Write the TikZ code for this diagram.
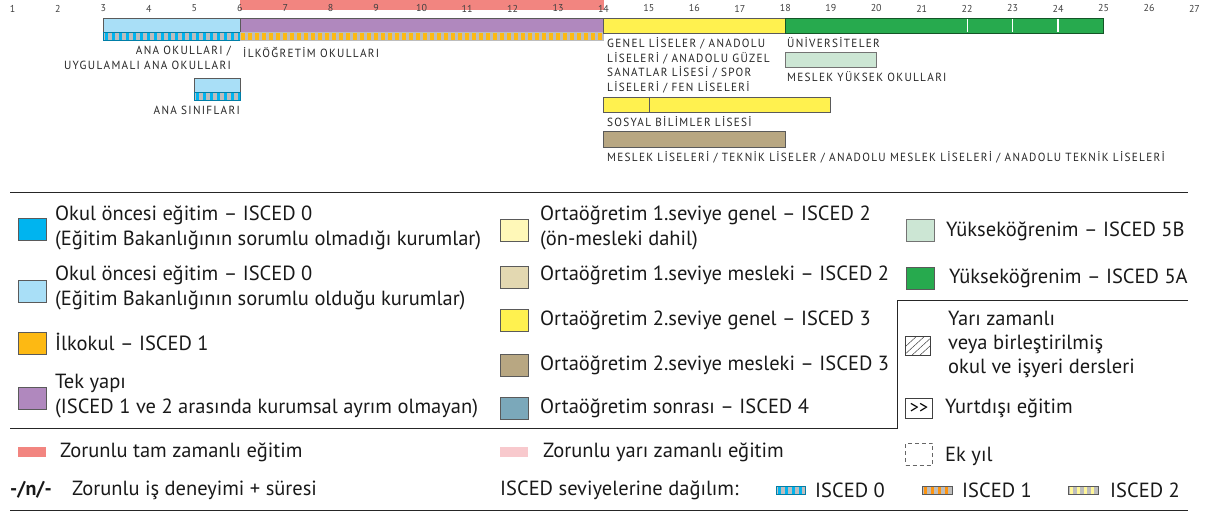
\documentclass[tikz,border=0pt]{standalone}
\usepackage{fontspec}
\setmainfont{PT Sans}
\newfontfamily\capsf{PT Sans}[FakeStretch=0.95,LetterSpace=11]
\usetikzlibrary{calc}
\definecolor{cred}{HTML}{F28580}
\definecolor{cpink}{HTML}{F8C9CD}
\definecolor{clblue}{HTML}{A9DFF7}
\definecolor{cblue}{HTML}{00B4EF}
\definecolor{corange}{HTML}{FDB913}
\definecolor{cpurple}{HTML}{B088BE}
\definecolor{clyellow}{HTML}{FFF8B8}
\definecolor{cbeige}{HTML}{E3D8B1}
\definecolor{cyellow}{HTML}{FFF14F}
\definecolor{ckhaki}{HTML}{B8A782}
\definecolor{cteal}{HTML}{7BA8BA}
\definecolor{clgreen}{HTML}{CCE6D4}
\definecolor{cgreen}{HTML}{27AA4E}
\definecolor{cgrey}{HTML}{BDBDBD}
\definecolor{cborder}{HTML}{5A5A5A}
\newcommand\stripebar[6]{% x0,x1,y0,y1,stripe colour,border colour
  \fill[cgrey] (#1,#3) rectangle (#2,#4);
  \pgfmathtruncatemacro\nstr{floor((#2-#1-3)/7)}
  \foreach \i in {0,...,\nstr}{\fill[#5] ({#1+1.5+7*\i},#3) rectangle ({min(#1+5+7*\i,#2)},#4);}
  \draw[#6,line width=0.6pt] (#1,#3) rectangle (#2,#4);
}
\tikzset{
  agelbl/.style={font=\fontsize{10}{10}\selectfont,text=black!75,inner sep=0},
  caplbl/.style={font=\capsf\fontsize{11.8}{14.6}\selectfont,text=black!85,inner sep=0,align=left},
  leg/.style={font=\fontsize{20.5}{25}\selectfont,inner sep=0,anchor=west,align=left,text=black!90},
  legbox/.style={draw=cborder,line width=0.8pt,minimum width=28pt,minimum height=22pt,inner sep=0},
  bar/.style={draw=cborder,line width=0.6pt},
  rule/.style={line width=0.9pt,black!85}
}
\begin{document}
\begin{tikzpicture}[x=1pt,y=-1pt]
\useasboundingbox (0,0) rectangle (1208,513);
% compulsory bar
\fill[cred] (239.8,0) rectangle (603.5,10.5);
% age labels
\foreach \n in {1,...,27}{\node[agelbl] (age\n) at ({12.5+(\n-1)*45.46},8.5) {\n};}
% main bars
\fill[clblue] (103.4,18) rectangle (239.8,32);
\draw[bar] (103.4,18) rectangle (239.8,32);
\stripebar{103.4}{239.8}{32}{40}{cblue}{cblue!70!black}
\fill[cpurple] (239.8,18) rectangle (603.5,32);
\draw[bar] (239.8,18) rectangle (603.5,32);
\stripebar{239.8}{603.5}{32}{40}{corange}{cgrey}
\fill[cyellow] (603.5,18) rectangle (785.3,33);
\draw[bar] (603.5,18) rectangle (785.3,33);
\fill[cgreen] (785.3,18) rectangle (1103.5,33);
\draw[bar,draw=cgreen!50!black] (785.3,18) rectangle (1103.5,33);
\foreach \xx in {967.2,1012.6,1058}{\draw[white,line width=1.2pt] (\xx,18.6) -- (\xx,32.4);}
% ana siniflari
\fill[clblue] (194.3,78) rectangle (239.8,92);
\draw[bar] (194.3,78) rectangle (239.8,92);
\stripebar{194.3}{239.8}{92}{100}{cblue}{cblue!70!black}
% universities 5B
\fill[clgreen] (785.3,52) rectangle (876.2,67);
\draw[bar,draw=black!55] (785.3,52) rectangle (876.2,67);
% sosyal bilimler
\fill[cyellow] (603.5,97) rectangle (830.7,112);
\draw[bar] (603.5,97) rectangle (830.7,112);
\draw[bar] (649,97) -- (649,112);
% meslek liseleri
\fill[ckhaki] (603.5,131) rectangle (785.3,147);
\draw[bar] (603.5,131) rectangle (785.3,147);
% top labels
\node[caplbl,anchor=east,align=right] (anaok) at (231,58) {ANA OKULLARI /\\UYGULAMALI ANA OKULLARI};
\node[caplbl,anchor=west] (ilk) at (243,52) {İLKÖĞRETİM OKULLARI};
\node[caplbl,anchor=east] (anasin) at (240,110) {ANA SINIFLARI};
\node[caplbl,anchor=north west] (genel) at (607,37.5) {GENEL LİSELER / ANADOLU\\LİSELERİ / ANADOLU GÜZEL\\SANATLAR LİSESİ / SPOR\\LİSELERİ / FEN LİSELERİ};
\node[caplbl,anchor=west] (univ) at (787,43) {ÜNİVERSİTELER};
\node[caplbl,anchor=west] (myo) at (787,77) {MESLEK YÜKSEK OKULLARI};
\node[caplbl,anchor=west] (sosyal) at (607,122) {SOSYAL BİLİMLER LİSESİ};
\node[caplbl,anchor=west] (meslek) at (607,157) {MESLEK LİSELERİ / TEKNİK LİSELER / ANADOLU MESLEK LİSELERİ / ANADOLU TEKNİK LİSELERİ};
% rules
\draw[rule] (10,192) -- (1188,192);
\draw[rule] (10,428) -- (897,428) -- (897,300) -- (1188,300);
\draw[rule] (10,510) -- (1188,510);
% column 1
\node[legbox,fill=cblue] (b1) at (32,229) {};
\node[leg] (t1) at (55,228) {Okul öncesi eğitim – ISCED 0\\(Eğitim Bakanlığının sorumlu olmadığı kurumlar)};
\node[legbox,fill=clblue] (b2) at (32,291) {};
\node[leg] (t2) at (55,288) {Okul öncesi eğitim – ISCED 0\\(Eğitim Bakanlığının sorumlu olduğu kurumlar)};
\node[legbox,fill=corange] (b3) at (32,343) {};
\node[leg] (t3) at (55,342) {İlkokul – ISCED 1};
\node[legbox,fill=cpurple] (b4) at (32,398) {};
\node[leg] (t4) at (55,396) {Tek yapı\\(ISCED 1 ve 2 arasında kurumsal ayrım olmayan)};
% column 2
\node[legbox,fill=clyellow] (c1) at (514,230) {};
\node[leg] (u1) at (540,228) {Ortaöğretim 1.seviye genel – ISCED 2\\(ön-mesleki dahil)};
\node[legbox,fill=cbeige] (c2) at (514,277) {};
\node[leg] (u2) at (540,275) {Ortaöğretim 1.seviye mesleki – ISCED 2};
\node[legbox,fill=cyellow] (c3) at (514,320) {};
\node[leg] (u3) at (540,320) {Ortaöğretim 2.seviye genel – ISCED 3};
\node[legbox,fill=ckhaki] (c4) at (514,365) {};
\node[leg] (u4) at (540,365) {Ortaöğretim 2.seviye mesleki – ISCED 3};
\node[legbox,fill=cteal] (c5) at (514,408) {};
\node[leg] (u5) at (540,408) {Ortaöğretim sonrası – ISCED 4};
% column 3
\node[legbox,fill=clgreen,draw=black!55] (d1) at (920,230) {};
\node[leg] (v1) at (946,231) {Yükseköğrenim – ISCED 5B};
\node[legbox,fill=cgreen] (d2) at (920,278) {};
\node[leg] (v2) at (949,278) {Yükseköğrenim – ISCED 5A};
\node[draw=black!75,line width=0.6pt,minimum width=25pt,minimum height=19pt,inner sep=0] (d3) at (918,346) {};
\begin{scope}
\clip (d3.south west) rectangle (d3.north east);
\foreach \k in {-12,-4,4,12}{\draw[black!75,line width=0.5pt] ($(d3.center)+(\k-12,11)$) -- ($(d3.center)+(\k+12,-11)$);}
\end{scope}
\node[leg,font=\fontsize{20.5}{24}\selectfont] (v3) at (948,344) {Yarı zamanlı\\veya birleştirilmiş\\okul ve işyeri dersleri};
\node[draw=black!75,line width=0.6pt,minimum width=27pt,minimum height=20pt,inner sep=0,font=\fontsize{18}{18}\selectfont] (d4) at (919,408) {>{}>};
\node[leg] (v4) at (945,408) {Yurtdışı eğitim};
\node[draw=black!60,dash pattern=on 4pt off 3pt,line width=0.6pt,minimum width=27pt,minimum height=22pt,inner sep=0] (d5) at (919,454) {};
\node[leg] (v5) at (945,456) {Ek yıl};
% bottom rows
\node[fill=cred,minimum width=28pt,minimum height=10pt,inner sep=0] (r1) at (32,452) {};
\node[leg] (w1) at (60,452) {Zorunlu tam zamanlı eğitim};
\node[fill=cpink,minimum width=28pt,minimum height=10pt,inner sep=0] (r2) at (514,452) {};
\node[leg] (w2) at (543,452) {Zorunlu yarı zamanlı eğitim};
\node[leg,font=\bfseries\fontsize{20}{20}\selectfont] (n1) at (10,490) {-/n/-};
\node[leg] (w3) at (72,490) {Zorunlu iş deneyimi + süresi};
\node[leg] (w4) at (500,490) {ISCED seviyelerine dağılım:};
\stripebar{776}{805}{486}{494}{cblue}{cblue!70!black}
\node[leg] (i0) at (815,490) {ISCED 0};
\stripebar{922}{952}{486}{494}{corange!80!red}{cborder}
\node[leg] (i1) at (962,490) {ISCED 1};
\stripebar{1068}{1098}{486}{494}{clyellow!70!cyellow}{cborder}
\node[leg] (i2) at (1110,490) {ISCED 2};
\end{tikzpicture}
\end{document}
